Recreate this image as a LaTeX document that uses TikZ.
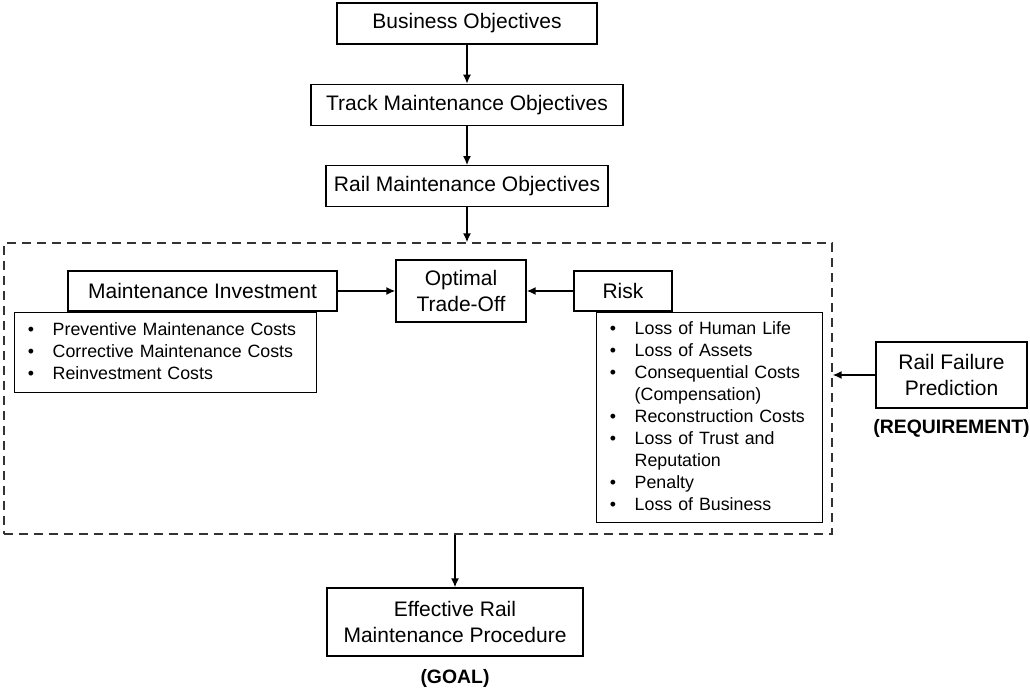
\documentclass[tikz,border=0pt]{standalone}
\usepackage{fontspec}
\setmainfont{Liberation Sans}
\usepackage{tikz}
\usetikzlibrary{arrows.meta,positioning}

\begin{document}
\begin{tikzpicture}[x=0.5pt, y=-0.5pt, node distance=19.5pt, >={Latex[length=4.5pt,width=4pt]},
    block/.style={rectangle, draw=black, fill=white, line width=0.7pt, align=center, minimum height=20.5pt, inner sep=2pt, font=\fontsize{10.5}{12.8}\selectfont},
    listbox/.style={rectangle, draw=black, fill=white, line width=0.7pt, anchor=north west, inner xsep=6.6pt, inner ysep=0pt, align=left, font=\fontsize{8.9}{11}\selectfont},
    frame/.style={rectangle, draw=black!80, line width=0.7pt, dash pattern=on 4.5pt off 3pt, inner sep=0pt},
    tag/.style={inner sep=0pt, font=\bfseries\fontsize{9.7}{11}\selectfont},
    link/.style={->, line width=0.75pt}]

    \useasboundingbox (0,0) rectangle (1030,688);

    \node [block, minimum width=130pt] (biz) at (467,23.5) {Business Objectives};
    \node [block, minimum width=156pt, below=of biz] (track) {Track Maintenance Objectives};
    \node [block, minimum width=141pt, below=of track] (rail) {Rail Maintenance Objectives};

    \node [frame, minimum width=414pt, minimum height=145.5pt] (zone) at (418,388.5) {};

    \node [block, minimum width=134.5pt, minimum height=20pt] (invest) at (202.5,291) {Maintenance Investment};
    \node [listbox, text width=137.8pt, minimum height=40pt] (investlist) at (14,312) {%
      \begin{tabular}{@{}l@{\hspace{9.3pt}}l@{}}
        \textbullet & Preventive Maintenance Costs\\
        \textbullet & Corrective Maintenance Costs\\
        \textbullet & Reinvestment Costs
      \end{tabular}};
    \node [block, minimum width=65pt, minimum height=31pt] (opt) at (461,291) {Optimal\\Trade-Off};
    \node [block, minimum width=49pt, minimum height=20pt] (risk) at (623,291) {Risk};
    \node [listbox, text width=99.8pt, minimum height=105pt] (risklist) at (596,312) {%
      \begin{tabular}{@{}l@{\hspace{9.3pt}}l@{}}
        \textbullet & Loss of Human Life\\
        \textbullet & Loss of Assets\\
        \textbullet & Consequential Costs\\
                    & (Compensation)\\
        \textbullet & Reconstruction Costs\\
        \textbullet & Loss of Trust and\\
                    & Reputation\\
        \textbullet & Penalty\\
        \textbullet & Loss of Business
      \end{tabular}};

    \node [block, minimum width=75.5pt, minimum height=33pt] (rfp) at (951.5,375) {Rail Failure\\Prediction};
    \node [tag, below=5.4pt of rfp] (req) {(REQUIREMENT)};

    \node [block, minimum width=128pt, minimum height=34pt] (eff) at (455,622) {Effective Rail\\Maintenance Procedure};
    \node [tag, below=6.2pt of eff] (goal) {(GOAL)};

    \draw [link] (biz) -- (track);
    \draw [link] (track) -- (rail);
    \draw [link] (rail) -- (rail |- zone.north);
    \draw [link] (invest) -- (opt);
    \draw [link] (risk) -- (opt);
    \draw [link] (rfp) -- (rfp -| zone.east);
    \draw [link] (zone.south -| eff) -- (eff);
\end{tikzpicture}
\end{document}
